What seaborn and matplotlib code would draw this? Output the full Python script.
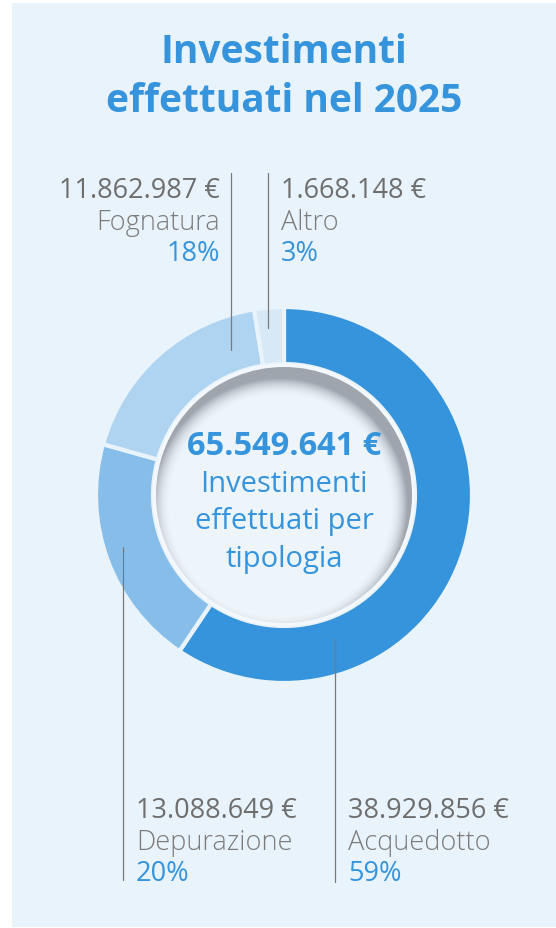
import numpy as np
import matplotlib.pyplot as plt
import seaborn as sns
from matplotlib.patches import Rectangle, Circle

# Data
categorie = ["Acquedotto", "Depurazione", "Fognatura", "Altro"]
importi = [38929856, 13088649, 11862987, 1668148]
importi_label = ["38.929.856 €", "13.088.649 €", "11.862.987 €", "1.668.148 €"]
percentuali = ["59%", "20%", "18%", "3%"]
totale_label = "65.549.641 €"
titolo = ["Investimenti", "effettuati nel 2025"]
sottotitolo = ["Investimenti", "effettuati per", "tipologia"]
colori = ["#3594dc", "#86bee9", "#afd4f1", "#d7e9f7"]

sns.set_theme(style="white")
plt.rcParams['font.family'] = ['Open Sans', 'DejaVu Sans']

BG = "#e9f3fb"
BLUE = "#3594dc"
GREY = "#6e6e6e"
LIGHTGREY = "#7c7c7c"

W, H = 556, 929
fig = plt.figure(figsize=(W / 100, H / 100), dpi=100)
ax = fig.add_axes([0, 0, 1, 1])

# panel
ax.add_patch(Rectangle((12, 4), W - 12, 924, facecolor=BG, edgecolor="none", zorder=0))

# donut (y axis is inverted, so counterclockwise in data = clockwise on screen)
cx, cy = 284, 496
r_out, r_in = 188, 131
ax.pie(importi, colors=colori, startangle=-90, counterclock=True,
       center=(cx, cy), radius=r_out,
       wedgeprops=dict(width=r_out - r_in, edgecolor=BG, linewidth=3.0))

# light rim + centre disc with inset shadow
R = 128
ax.add_patch(Circle((cx, cy), 131.5, facecolor="#f3f8fd", edgecolor="none", zorder=2.5))
ax.add_patch(Circle((cx, cy), R, facecolor="#edf5fb", edgecolor="none", zorder=3))
n = 400
xs = np.linspace(cx - R, cx + R, n)
ys = np.linspace(cy - R, cy + R, n)
X, Y = np.meshgrid(xs, ys)
off_x, off_y, blur = -4, 11, 18
d = np.hypot(X - (cx + off_x), Y - (cy + off_y))
v = np.clip((d - (R - blur)) / blur, 0, 1)
img = np.zeros((n, n, 4))
img[..., 0] = 0.42
img[..., 1] = 0.44
img[..., 2] = 0.48
img[..., 3] = 0.6 * v ** 2.0
im = ax.imshow(img, extent=(cx - R, cx + R, cy + R, cy - R), origin="upper",
               interpolation="bilinear", zorder=4)
im.set_clip_path(Circle((cx, cy), R, transform=ax.transData))

# centre text
ax.text(cx, 455, totale_label, ha="center", va="baseline", fontsize=23.5,
        fontweight="bold", color=BLUE, zorder=5)
for i, riga in enumerate(sottotitolo):
    ax.text(cx, 492 + 37.5 * i, riga, ha="center", va="baseline", fontsize=21,
            color=BLUE, zorder=5)

# title
for i, riga in enumerate(titolo):
    ax.text(cx, 63 + 49 * i, riga, ha="center", va="baseline", fontsize=28,
            fontweight="bold", color=BLUE)

# labels: (line x, line y0, line y1, text x, first baseline, align)
layout = [
    (335, 640, 883, 348, 818, "left"),   # Acquedotto
    (123, 548, 881, 136, 818, "left"),   # Depurazione
    (231, 174, 351, 220, 198, "right"),  # Fognatura
    (268, 174, 329, 281, 198, "left"),   # Altro
]
for (lx, y0, y1, tx, ty, ha), cat, imp, pct in zip(layout, categorie, importi_label, percentuali):
    ax.plot([lx, lx], [y0, y1], color="#7a7a7a", lw=0.9, zorder=6)
    ax.text(tx, ty, imp, ha=ha, va="baseline", fontsize=19.5, color=GREY)
    ax.text(tx, ty + 32, cat, ha=ha, va="baseline", fontsize=19.5,
            fontweight="light", color=LIGHTGREY)
    ax.text(tx, ty + 63, pct, ha=ha, va="baseline", fontsize=19.5, color=BLUE)

ax.set_xlim(0, W)
ax.set_ylim(H, 0)
ax.set_aspect("equal")
ax.axis("off")

fig.savefig("out.png", dpi=100, facecolor="white")
